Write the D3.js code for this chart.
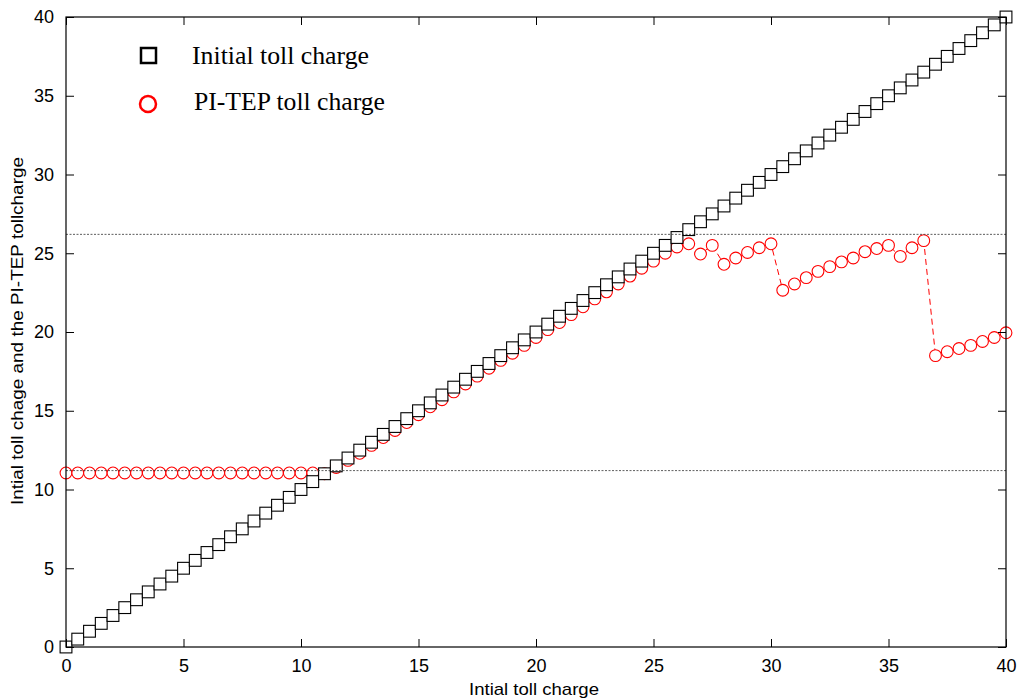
<!DOCTYPE html>
<html><head><meta charset="utf-8">
<script src="https://cdn.jsdelivr.net/npm/d3@7"></script>
<style>body{margin:0;background:#fff}svg{display:block}</style>
</head><body>
<svg id="c" width="1019" height="699"></svg>
<script>
const xValues = [0,0.5,1,1.5,2,2.5,3,3.5,4,4.5,5,5.5,6,6.5,7,7.5,8,8.5,9,9.5,10,10.5,11,11.5,12,12.5,13,13.5,14,14.5,15,15.5,16,16.5,17,17.5,18,18.5,19,19.5,20,20.5,21,21.5,22,22.5,23,23.5,24,24.5,25,25.5,26,26.5,27,27.5,28,28.5,29,29.5,30,30.5,31,31.5,32,32.5,33,33.5,34,34.5,35,35.5,36,36.5,37,37.5,38,38.5,39,39.5,40];
const initialToll = [0,0.5,1,1.5,2,2.5,3,3.5,4,4.5,5,5.5,6,6.5,7,7.5,8,8.5,9,9.5,10,10.5,11,11.5,12,12.5,13,13.5,14,14.5,15,15.5,16,16.5,17,17.5,18,18.5,19,19.5,20,20.5,21,21.5,22,22.5,23,23.5,24,24.5,25,25.5,26,26.5,27,27.5,28,28.5,29,29.5,30,30.5,31,31.5,32,32.5,33,33.5,34,34.5,35,35.5,36,36.5,37,37.5,38,38.5,39,39.5,40];
const pitepToll = [11.05,11.05,11.05,11.05,11.05,11.05,11.05,11.05,11.05,11.05,11.05,11.05,11.05,11.05,11.05,11.05,11.05,11.05,11.05,11.05,11.05,11.05,
  11.0,11.4,11.85,12.3,12.8,13.3,13.75,14.25,14.75,15.25,15.7,16.2,16.7,17.2,17.7,18.2,18.65,19.15,19.65,20.15,20.6,21.1,21.6,22.1,22.55,23.05,23.55,24.05,24.5,25.0,
  25.4,25.6,24.95,25.5,24.3,24.7,25.05,25.35,25.6,
  22.65,23.05,23.45,23.85,24.15,24.45,24.7,25.1,25.3,25.5,24.8,25.35,25.8,
  18.5,18.75,18.95,19.15,19.4,19.65,19.95];
const refLines = [26.2, 11.2];
const xTicks = [0,5,10,15,20,25,30,35,40];
const yTicks = [0,5,10,15,20,25,30,35,40];
const legendLabels = ["Initial toll charge","PI-TEP toll charge"];

const svg = d3.select("#c");
const L=66,R=1006,T=17,B=647;
const x = d3.scaleLinear().domain([0,40]).range([L,R]);
const y = d3.scaleLinear().domain([0,40]).range([B,T]);
const tickFont = "'Liberation Sans', Arial, sans-serif";

// red dashed line + circles
svg.append("path").datum(xValues.map((v,i)=>[v,pitepToll[i]]))
  .attr("d", d3.line().x(d=>x(d[0])).y(d=>y(d[1])))
  .attr("fill","none").attr("stroke","#ff0000").attr("stroke-width",1).attr("stroke-dasharray","6,4");
svg.append("g").selectAll("circle").data(xValues.map((v,i)=>[v,pitepToll[i]])).join("circle")
  .attr("cx",d=>x(d[0])).attr("cy",d=>y(d[1])).attr("r",5.9)
  .attr("fill","#fff").attr("stroke","#ff0000").attr("stroke-width",1.1);

// squares
const s=11.8;
svg.append("g").selectAll("rect").data(xValues.map((v,i)=>[v,initialToll[i]])).join("rect")
  .attr("x",d=>x(d[0])-s/2).attr("y",d=>y(d[1])-s/2).attr("width",s).attr("height",s)
  .attr("fill","#fff").attr("stroke","#000").attr("stroke-width",1.1);

// reference lines
svg.append("g").selectAll("line").data(refLines).join("line")
  .attr("x1",L).attr("x2",R).attr("y1",d=>y(d)).attr("y2",d=>y(d))
  .attr("stroke","#333").attr("stroke-width",0.8).attr("stroke-dasharray","2,1.5");

// axes (inner ticks all sides)
const tl=8;
function style(g){g.select(".domain").remove();g.selectAll("line").attr("stroke","#000");
  g.selectAll("text").attr("font-family",tickFont).attr("font-size",18).attr("fill","#000");}
svg.append("g").attr("transform",`translate(0,${B})`)
  .call(d3.axisBottom(x).tickValues(xTicks).tickSize(-tl).tickPadding(tl+4).tickFormat(d3.format("d"))).call(style);
svg.append("g").attr("transform",`translate(0,${T})`)
  .call(d3.axisTop(x).tickValues(xTicks).tickSize(-tl).tickFormat("")).call(style);
svg.append("g").attr("transform",`translate(${L},0)`)
  .call(d3.axisLeft(y).tickValues(yTicks).tickSize(-tl).tickPadding(tl+4).tickFormat(d3.format("d"))).call(style);
svg.append("g").attr("transform",`translate(${R},0)`)
  .call(d3.axisRight(y).tickValues(yTicks).tickSize(-tl).tickFormat("")).call(style);
svg.append("rect").attr("x",L).attr("y",T).attr("width",R-L).attr("height",B-T)
  .attr("fill","none").attr("stroke","#000").attr("stroke-width",1.2);

// axis labels
svg.append("text").attr("x",534).attr("y",695).attr("text-anchor","middle")
  .attr("font-family",tickFont).attr("font-size",17).attr("textLength",130).attr("lengthAdjust","spacingAndGlyphs")
  .text("Intial toll charge");
svg.append("text").attr("transform",`translate(23,331) rotate(-90)`).attr("text-anchor","middle")
  .attr("font-family",tickFont).attr("font-size",17).attr("textLength",348).attr("lengthAdjust","spacingAndGlyphs")
  .text("Intial toll chage and the PI-TEP tollcharge");

// legend
const lg = svg.append("g");
lg.append("rect").attr("x",141).attr("y",48).attr("width",15).attr("height",15)
  .attr("fill","none").attr("stroke","#000").attr("stroke-width",2.5);
lg.append("circle").attr("cx",148).attr("cy",104).attr("r",8)
  .attr("fill","none").attr("stroke","#ff0000").attr("stroke-width",2.5);
lg.selectAll("text").data(legendLabels).join("text")
  .attr("x",(d,i)=>i?194:192).attr("y",(d,i)=>i?110:64)
  .attr("font-family","'Liberation Serif','Times New Roman',serif").attr("font-size",25.5)
  .attr("textLength",(d,i)=>i?191:177).attr("lengthAdjust","spacingAndGlyphs").text(d=>d);
</script>
</body></html>
